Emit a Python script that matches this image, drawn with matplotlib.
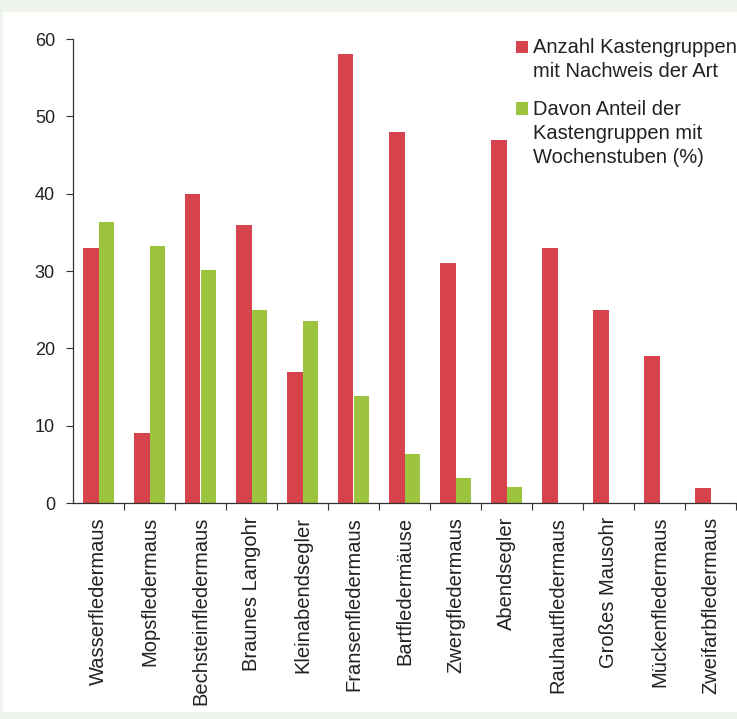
import matplotlib
matplotlib.use("Agg")
import matplotlib.pyplot as plt
from matplotlib.patches import Rectangle
import numpy as np

categories = ["Wasserfledermaus", "Mopsfledermaus", "Bechsteinfledermaus",
              "Braunes Langohr", "Kleinabendsegler", "Fransenfledermaus",
              "Bartfledermäuse", "Zwergfledermaus", "Abendsegler",
              "Rauhautfledermaus", "Großes Mausohr", "Mückenfledermaus",
              "Zweifarbfledermaus"]
anzahl = [33, 9, 40, 36, 17, 58, 48, 31, 47, 33, 25, 19, 2]
anteil = [36.3, 33.2, 30.1, 24.9, 23.5, 13.8, 6.3, 3.2, 2.1, 0, 0, 0, 0]
yticks = [0, 10, 20, 30, 40, 50, 60]
legend_labels = ["Anzahl Kastengruppen\nmit Nachweis der Art",
                 "Davon Anteil der\nKastengruppen mit\nWochenstuben (%)"]

RED = "#d6434c"
GREEN = "#9cc43e"
FONT = "Liberation Sans"

W, H = 737, 719
fig = plt.figure(figsize=(W / 100, H / 100), dpi=100)
fig.patch.set_facecolor("#eef3ec")

# white panel
fig.patches.append(Rectangle((3 / W, 1 - 712 / H), 1, (712 - 12) / H,
                             transform=fig.transFigure, facecolor="white",
                             edgecolor="none", zorder=-5))

ax = fig.add_axes([73 / W, 1 - 503 / H, (736 - 73) / W, (503 - 39) / H])
ax.set_zorder(2)
ax.set_facecolor("none")

x = np.arange(len(categories))
bw = 0.30
ax.bar(x - bw / 2, anzahl, width=bw, color=RED, zorder=2)
ax.bar(x + bw / 2, anteil, width=bw, color=GREEN, zorder=2)

ax.set_xlim(-0.5, len(categories) - 0.5)
ax.set_ylim(0, 60)
ax.set_yticks(yticks)
ax.set_yticklabels([str(v) for v in yticks], fontfamily=FONT, fontsize=13,
                   color="#222222")
ax.set_xticks(x + 0.5, minor=False)
ax.set_xticklabels([])
ax.set_xticks(x, minor=True)
ax.set_xticklabels(categories, minor=True, rotation=90, fontfamily=FONT,
                   fontsize=14.5, color="#222222", va="top", ha="center")
ax.tick_params(axis="x", which="minor", length=0, pad=10)
ax.tick_params(axis="x", which="major", length=5, width=0.8, direction="out",
               color="#333333")
ax.tick_params(axis="y", length=5, width=0.8, direction="out", color="#333333",
               pad=8)
for s in ["top", "right"]:
    ax.spines[s].set_visible(False)
for s in ["left", "bottom"]:
    ax.spines[s].set_color("#333333")
    ax.spines[s].set_linewidth(0.9)

# legend (manual)
def fx(px):
    return px / W

def fy(py):
    return 1 - py / H

fig.patches.append(Rectangle((fx(516), fy(53)), 12 / W, 12 / H,
                             transform=fig.transFigure, facecolor=RED,
                             edgecolor="none", zorder=3))
fig.patches.append(Rectangle((fx(516), fy(115)), 12 / W, 13 / H,
                             transform=fig.transFigure, facecolor=GREEN,
                             edgecolor="none", zorder=3))
baselines = [[53, 77], [115, 139, 163]]
for lab, bls in zip(legend_labels, baselines):
    for line, b in zip(lab.split("\n"), bls):
        fig.text(fx(533), fy(b), line, fontfamily=FONT, fontsize=14.5,
                 color="#222222", va="baseline", ha="left", zorder=3)

fig.savefig("out.png", dpi=100, facecolor=fig.get_facecolor())
